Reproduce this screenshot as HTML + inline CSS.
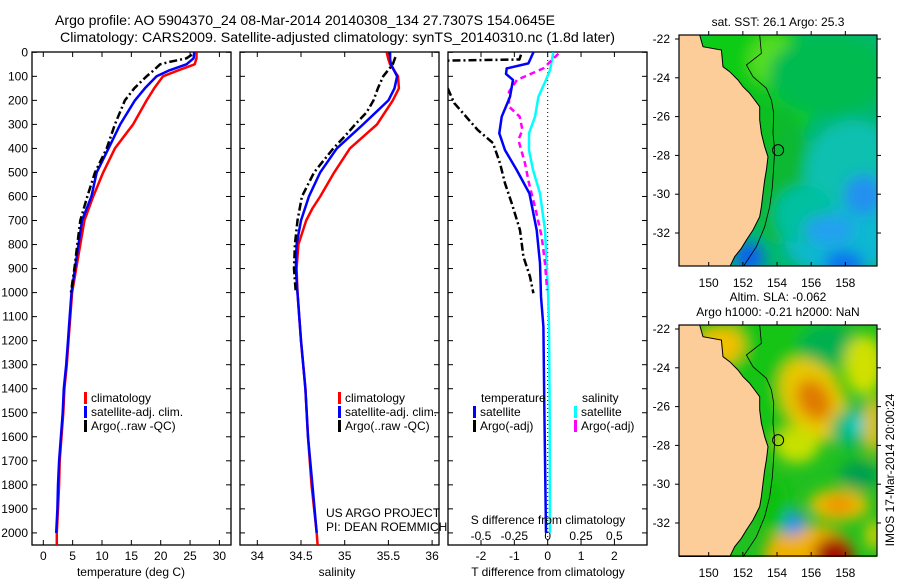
<!DOCTYPE html>
<html><head><meta charset="utf-8"><style>
body{margin:0;background:#fff;}
svg{display:block;font-family:"Liberation Sans",sans-serif;}
text{font-size:12px;fill:#000;}
</style></head><body>
<svg id="fig" width="900" height="580" viewBox="0 0 900 580">
<defs>
<filter id="blur6" x="-50%" y="-50%" width="200%" height="200%"><feGaussianBlur stdDeviation="7"/></filter>
<clipPath id="clipT"><rect x="32" y="52" width="199" height="493"/></clipPath>
<clipPath id="clipS"><rect x="240" y="52" width="199" height="493"/></clipPath>
<clipPath id="clipD"><rect x="448" y="52" width="199" height="493"/></clipPath>
<clipPath id="clipM1"><rect x="679" y="35" width="198" height="231"/></clipPath>
<clipPath id="clipM2"><rect x="679" y="325" width="198" height="232"/></clipPath>
</defs>
<text x="55" y="25" textLength="500" lengthAdjust="spacingAndGlyphs" style="font-size:14px">Argo profile: AO 5904370_24 08-Mar-2014 20140308_134 27.7307S 154.0645E</text>
<text x="60" y="42" textLength="555" lengthAdjust="spacingAndGlyphs" style="font-size:14px">Climatology: CARS2009. Satellite-adjusted climatology: synTS_20140310.nc (1.8d later)</text>
<g id="gT"></g>
<g id="gS"></g>
<g id="gD"></g>
<g id="gM1"></g>
<g id="gM2"></g>
<text x="0" y="0" transform="translate(894,470) rotate(-90)" text-anchor="middle" style="font-size:12px">IMOS 17-Mar-2014 20:00:24</text>
</svg>
<script>
// ---- temperature profiles ----
const climTDepth=[0,25,50,75,100,150,200,300,400,500,600,700,800,900,1000,1100,1200,1300,1400,1500,1600,1700,1800,1900,2000,2050];
const climT=[26.1,26.1,25.8,23,20.4,18.9,17.6,15.3,12.2,10.2,8.5,7.0,6.3,5.6,4.9,4.6,4.3,4.0,3.6,3.4,3.1,2.8,2.7,2.5,2.3,2.3];
const satTDepth=[0,25,50,75,100,150,200,300,400,500,600,700,800,900,1000,1100,1200,1300,1400,1500,1600,1700,1800,1900,2000];
const satT=[25.7,25.6,24.4,21.5,19.3,17.3,15.6,13.1,11.1,9.1,8.2,6.6,6.0,5.4,4.8,4.5,4.2,3.9,3.5,3.3,3.0,2.7,2.5,2.4,2.2];
const argoTDepth=[10,25,40,50,75,100,150,200,300,400,500,600,700,800,900,1000];
const argoT=[25.3,24.4,21.5,19.9,18.8,17.6,15.5,13.9,12.2,10.8,8.8,7.5,6.3,5.8,5.3,4.7];
// ---- salinity profiles ----
const climSDepth=[0,30,50,100,150,200,300,400,500,600,650,700,800,900,1000,1200,1400,1600,1800,2000,2050];
const climS=[35.48,35.5,35.52,35.61,35.62,35.55,35.37,35.06,34.88,34.72,34.63,34.56,34.47,34.45,34.46,34.5,34.55,34.58,34.62,34.68,34.69];
const satSDepth=[0,30,50,100,150,200,300,400,500,600,700,800,900,1000,1200,1400,1600,1800,2000];
const satS=[35.52,35.52,35.53,35.6,35.57,35.5,35.21,34.91,34.72,34.59,34.5,34.45,34.44,34.46,34.5,34.55,34.58,34.63,34.68];
const argoSDepth=[20,50,100,150,200,250,300,350,400,500,600,700,800,900,1000];
const argoS=[35.58,35.55,35.44,35.38,35.33,35.25,35.12,35.0,34.87,34.65,34.51,34.46,34.43,34.42,34.44];
// ---- differences ----
const dTsatDepth=[0,46,67,90,115,185,268,337,407,490,587,740,878,1017,1142,1500,2000];
const dTsat=[-0.43,-0.58,-1.23,-1.25,-1.04,-1.13,-1.38,-1.45,-1.28,-0.93,-0.55,-0.33,-0.23,-0.2,-0.13,-0.1,-0.05];
const dTargoDepth=[10,30,35,115,150,212,323,378,462,545,628,740,850,934,1003];
const dTargo=[-0.8,-0.85,-3.2,-3.1,-3.0,-2.8,-2.1,-1.64,-1.43,-1.28,-1.08,-0.83,-0.73,-0.53,-0.43];
const dSsatDepth=[0,74,115,185,268,337,407,490,587,740,878,1017,1142,1500,2000];
const dSsat=[0.042,0.017,-0.013,-0.07,-0.095,-0.14,-0.14,-0.11,-0.058,-0.02,-0.008,0.004,0.01,0.015,0.017];
const dSargoDepth=[6,67,115,164,226,268,323,365,462,545,656,767,878,961,990];
const dSargo=[0.08,-0.033,-0.23,-0.29,-0.29,-0.21,-0.19,-0.22,-0.17,-0.14,-0.09,-0.045,-0.02,-0.008,-0.005];
// ---- ticks ----
const depthTicks=[0,100,200,300,400,500,600,700,800,900,1000,1100,1200,1300,1400,1500,1600,1700,1800,1900,2000];
const tempTicks=[0,5,10,15,20,25,30];
const salTicks=[34,34.5,35,35.5,36];
const dTTicks=[-2,-1,0,1,2];
const dSTicks=[-0.5,-0.25,0,0.25,0.5];
const dSTickLabels=["-0.5","-0.25","0","0.25","0.5"];
const lonTicks=[150,152,154,156,158];
const latTicks=[-22,-24,-26,-28,-30,-32];

const NS='http://www.w3.org/2000/svg';
function mk(tag,attrs,parent){const e=document.createElementNS(NS,tag);for(const k in attrs)e.setAttribute(k,attrs[k]);parent.appendChild(e);return e;}
const yD=d=>52.3+d*0.2403;
const xT=t=>43.3+t*5.87;
const xS=s=>257.3+(s-34)*87.4;
const xDT=t=>547.7+t*33.35;
const xDS=s=>547.7+s*133.4;
const xLon=l=>708.7+(l-150)*17.08;
const yLat1=l=>39-(l+22)*19.4;
const yLat2=l=>329-(l+22)*19.4;

function ptsOf(vals,depths,fx){return vals.map((v,i)=>fx(v).toFixed(1)+','+yD(depths[i]).toFixed(1)).join(' ');}

function frame(g,x0,x1,name){
  const r=mk('rect',{x:x0,y:52,width:x1-x0,height:493,fill:'none',stroke:'#000','stroke-width':1.3},g);
  
  
}
function line(g,vals,depths,fx,color,w,dash,clip,name){
  const p=mk('polyline',{points:ptsOf(vals,depths,fx),fill:'none',stroke:color,'stroke-width':w,'clip-path':'url(#'+clip+')','stroke-linejoin':'round'},g);
  if(dash)p.setAttribute('stroke-dasharray',dash);
  
  
}
function txt(g,x,y,s,anchor,name,size){
  const t=mk('text',{x:x,y:y,'text-anchor':anchor||'start'},g);
  if(size)t.setAttribute('style','font-size:'+size+'px');
  t.textContent=s;
  
  
  return t;
}
function legendItem(g,x,y,color,label,name){
  const r=mk('rect',{x:x,y:y-10,width:3,height:12,fill:color},g);
  
  
  txt(g,x+7,y,label,'start',name);
}

// ===== Temperature panel =====
const gT=document.getElementById('gT');
frame(gT,32,231,'temperature-plot');
depthTicks.forEach(d=>{
  const y=yD(d);
  mk('line',{x1:32,x2:37,y1:y,y2:y,stroke:'#000'},gT);
  mk('line',{x1:226,x2:231,y1:y,y2:y,stroke:'#000'},gT);
  txt(gT,28,y+4,String(d),'end','depth-tick-label');
});
tempTicks.forEach(t=>{
  const x=xT(t);
  mk('line',{x1:x,x2:x,y1:545,y2:540,stroke:'#000'},gT);
  mk('line',{x1:x,x2:x,y1:52,y2:57,stroke:'#000'},gT);
  txt(gT,x,560,String(t),'middle','temperature-tick-label');
});
txt(gT,131,576,'temperature (deg C)','middle','temperature-axis-title');
line(gT,climT,climTDepth,xT,'#ff0000',2.5,null,'clipT','temperature-climatology-line');
line(gT,satT,satTDepth,xT,'#0000ff',2.5,null,'clipT','temperature-satellite-line');
line(gT,argoT,argoTDepth,xT,'#000',2.5,'8,3,2,3','clipT','temperature-argo-line');
legendItem(gT,84,402,'#ff0000','climatology','legend-climatology');
legendItem(gT,84,416,'#0000ff','satellite-adj. clim.','legend-satellite');
legendItem(gT,84,430,'#000','Argo(..raw -QC)','legend-argo');

// ===== Salinity panel =====
const gS=document.getElementById('gS');
frame(gS,240,439,'salinity-plot');
depthTicks.forEach(d=>{
  const y=yD(d);
  mk('line',{x1:240,x2:245,y1:y,y2:y,stroke:'#000'},gS);
  mk('line',{x1:434,x2:439,y1:y,y2:y,stroke:'#000'},gS);
});
salTicks.forEach(s=>{
  const x=xS(s);
  mk('line',{x1:x,x2:x,y1:545,y2:540,stroke:'#000'},gS);
  mk('line',{x1:x,x2:x,y1:52,y2:57,stroke:'#000'},gS);
  txt(gS,x,560,String(s),'middle','salinity-tick-label');
});
txt(gS,337,576,'salinity','middle','salinity-axis-title');
line(gS,climS,climSDepth,xS,'#ff0000',2.5,null,'clipS','salinity-climatology-line');
line(gS,satS,satSDepth,xS,'#0000ff',2.5,null,'clipS','salinity-satellite-line');
line(gS,argoS,argoSDepth,xS,'#000',2.5,'8,3,2,3','clipS','salinity-argo-line');
legendItem(gS,338,402,'#ff0000','climatology','legend-climatology-s');
legendItem(gS,338,416,'#0000ff','satellite-adj. clim.','legend-satellite-s');
legendItem(gS,338,430,'#000','Argo(..raw -QC)','legend-argo-s');
txt(gS,326,517,'US ARGO PROJECT','start','credit-project');
txt(gS,326,531,'PI: DEAN ROEMMICH','start','credit-pi');

// ===== Difference panel =====
const gD=document.getElementById('gD');
frame(gD,448,647,'difference-plot');
mk('line',{x1:xDT(0),x2:xDT(0),y1:52,y2:545,stroke:'#000','stroke-dasharray':'1,3'},gD);
depthTicks.forEach(d=>{
  const y=yD(d);
  mk('line',{x1:448,x2:453,y1:y,y2:y,stroke:'#000'},gD);
  mk('line',{x1:642,x2:647,y1:y,y2:y,stroke:'#000'},gD);
});
dTTicks.forEach(t=>{
  const x=xDT(t);
  mk('line',{x1:x,x2:x,y1:545,y2:540,stroke:'#000'},gD);
  mk('line',{x1:x,x2:x,y1:52,y2:57,stroke:'#000'},gD);
  txt(gD,x,560,String(t),'middle','t-diff-tick-label');
});
dSTicks.forEach((s,i)=>{
  const x=xDS(s);
  txt(gD,x,540,dSTickLabels[i],'middle','s-diff-tick-label');
});
line(gD,dSsat,dSsatDepth,xDS,'#00ffff',2.5,null,'clipD','salinity-diff-satellite-line');
line(gD,dSargo,dSargoDepth,xDS,'#ff00ff',2.5,'6,4','clipD','salinity-diff-argo-line');
line(gD,dTsat,dTsatDepth,xDT,'#0000ff',2.5,null,'clipD','temperature-diff-satellite-line');
line(gD,dTargo,dTargoDepth,xDT,'#000',2.5,'8,3,2,3','clipD','temperature-diff-argo-line');
txt(gD,481,402,'temperature','start','legend-temperature-heading');
legendItem(gD,473,416,'#0000ff','satellite','legend-t-satellite');
legendItem(gD,473,430,'#000','Argo(-adj)','legend-t-argo');
txt(gD,582,402,'salinity','start','legend-salinity-heading');
legendItem(gD,574,416,'#00ffff','satellite','legend-s-satellite');
legendItem(gD,574,430,'#ff00ff','Argo(-adj)','legend-s-argo');
txt(gD,548,524,'S difference from climatology','middle','s-diff-axis-title');
txt(gD,548,576,'T difference from climatology','middle','t-diff-axis-title');

// ===== Maps =====
const landPts=[[0,0],[20.7,0],[24,11.7],[42.4,15],[44,31.7],[50.7,36.7],[59,45],[64,51.7],[70.7,58.3],[75.7,65],[80.7,71.7],[80.7,85],[82.4,98.3],[85.7,111.7],[89,121.7],[87.4,135],[85.7,145],[84,158.3],[82.4,171.7],[80.7,181.7],[74,195],[67.4,205],[62.4,213.3],[55.7,221.7],[50.7,232],[0,232]];
const isoPts=[[80.7,0],[82.4,18.3],[67.4,30],[74,41.7],[87.4,53.3],[92.4,65],[94.7,78.3],[94,98.3],[95.7,115],[94.7,131.7],[93.4,151.7],[90.7,171.7],[85.7,191.7],[77.4,211.7],[64,232]];
function drawMap(g,top,clip,blobs,bg,title1,title2,yLat,name){
  const mapG=mk('g',{'clip-path':'url(#'+clip+')'},g);
  mk('rect',{x:679,y:top,width:198,height:232,fill:bg},mapG);
  const bg2=mk('g',{filter:'url(#blur6)'},mapG);
  blobs.forEach(b=>{mk('ellipse',{cx:679+b[0],cy:top+b[1],rx:b[2],ry:b[3],fill:b[4],transform:'rotate('+(b[5]||0)+' '+(679+b[0])+' '+(top+b[1])+')'},bg2);});
  const land=mk('polygon',{points:landPts.map(p=>(679+p[0])+','+(top+p[1])).join(' '),fill:'#fccc99',stroke:'#000','stroke-width':1},mapG);
  
  
  mk('polyline',{points:isoPts.map(p=>(679+p[0])+','+(top+p[1])).join(' '),fill:'none',stroke:'#000','stroke-width':0.8},mapG);
  const c=mk('circle',{cx:xLon(154.0645),cy:yLat(-27.7307),r:5.5,fill:'none',stroke:'#000','stroke-width':1},mapG);
  
  
  mk('rect',{x:679,y:top,width:198,height:231,fill:'none',stroke:'#000','stroke-width':1.2},g);
  lonTicks.forEach(l=>{
    const x=xLon(l);
    mk('line',{x1:x,x2:x,y1:top,y2:top-4,stroke:'#000'},g);
    mk('line',{x1:x,x2:x,y1:top+231,y2:top+227,stroke:'#000'},g);
    txt(g,x,top+252,String(l),'middle',name+'-lon-tick');
  });
  latTicks.forEach(l=>{
    const y=yLat(l);
    mk('line',{x1:679,x2:675,y1:y,y2:y,stroke:'#000'},g);
    mk('line',{x1:877,x2:881,y1:y,y2:y,stroke:'#000'},g);
    txt(g,670,y+4,String(l),'end',name+'-lat-tick');
  });
  if(title1)txt(g,778,top-(title2?24:9),title1,'middle',name+'-title');
  if(title2)txt(g,778,top-9,title2,'middle',name+'-subtitle');
}
const sstBlobs=[
 [70,50,70,70,'#10cc14'],[95,25,25,25,'#55dd22'],[150,40,60,40,'#00bb50'],
 [100,140,30,70,'#10b830'],[60,90,40,40,'#10c020'],
 [175,140,50,55,'#10c0b0'],[160,205,55,35,'#10b8d0'],[125,180,30,30,'#00c0a0'],
 [185,160,20,20,'#2090f0'],[150,195,25,15,'#20a0f0'],[165,228,20,12,'#1070f0'],
 [70,222,15,15,'#1060f0']];
drawMap(document.getElementById('gM1'),35,'clipM1',sstBlobs,'#00b870','sat. SST: 26.1  Argo: 25.3',null,yLat1,'sst-map');
const slaBlobs=[
 [100,40,60,80,'#14c414'],[40,20,25,20,'#f0c000'],[150,20,30,20,'#00b050'],
 [135,75,30,45,'#e8c800',-30],[135,75,16,22,'#e07a00',-30],[178,100,28,20,'#00b870',-30],[178,100,10,8,'#00d0d0',-30],
 [118,120,22,18,'#c8e000'],[185,40,20,30,'#d0e000'],[195,100,10,30,'#e0c000'],
 [160,180,30,16,'#e8c000'],[160,180,16,9,'#f09000'],[130,230,45,30,'#f0b000'],[155,232,20,20,'#a01000'],
 [112,198,15,12,'#2090f0'],[180,150,20,15,'#00a050'],[195,210,8,15,'#e0d000'],[95,180,15,30,'#10c010']];
drawMap(document.getElementById('gM2'),325,'clipM2',slaBlobs,'#20c020','Altim. SLA: -0.062','Argo h1000: -0.21 h2000: NaN',yLat2,'sla-map');
</script>
</body></html>
